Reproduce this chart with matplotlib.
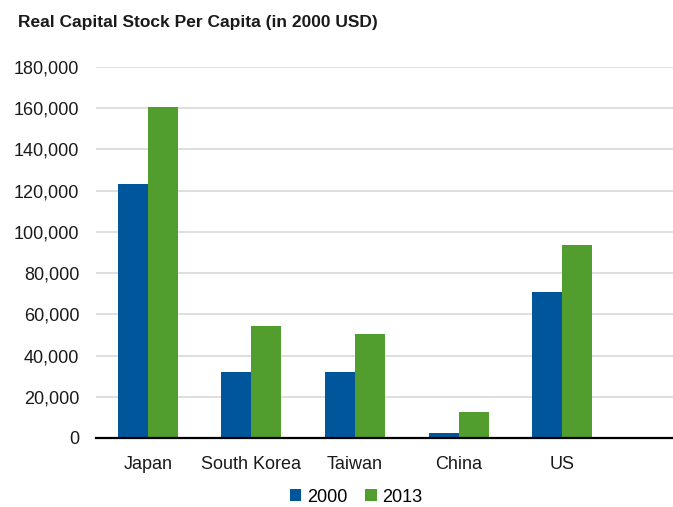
import numpy as np
import matplotlib
matplotlib.use('Agg')
import matplotlib.pyplot as plt
from matplotlib.ticker import FuncFormatter

plt.rcParams['font.family'] = ['Liberation Sans Narrow', 'Liberation Sans', 'DejaVu Sans']

countries = ['Japan', 'South Korea', 'Taiwan', 'China', 'US']
cap_2000 = [123100, 31900, 32000, 2400, 70900]
cap_2013 = [160500, 54500, 50300, 12600, 93500]

blue = '#00569B'
green = '#519E2F'

fig = plt.figure(figsize=(6.73, 5.07), dpi=100)
ax = fig.add_axes([96 / 673, 1 - 438 / 507, 1 - 96 / 673, (438 - 67) / 507])

x = np.arange(len(countries))
w = 0.29
ax.bar(x - w / 2, cap_2000, w, color=blue, label='2000', zorder=3)
ax.bar(x + w / 2, cap_2013, w, color=green, label='2013', zorder=3)

ax.set_ylim(0, 180000)
ax.set_xlim(-0.5, 5.07)
ax.set_yticks(range(0, 180001, 20000))
ax.yaxis.set_major_formatter(FuncFormatter(lambda v, p: f'{int(v):,}'))
ax.set_xticks(x)
ax.set_xticklabels(countries)
ax.tick_params(axis='both', length=0, labelsize=13, colors='#1a1a1a', pad=12)
ax.tick_params(axis='x', pad=13)
ax.yaxis.grid(True, color='#d9d9d9', linewidth=1.2, zorder=0)
for s in ['top', 'right', 'left']:
    ax.spines[s].set_visible(False)
ax.spines['bottom'].set_color('black')
ax.spines['bottom'].set_linewidth(1.6)
ax.spines['bottom'].set_zorder(4)

fig.text(18 / 673, 1 - 22 / 507, 'Real Capital Stock Per Capita (in 2000 USD)',
         fontsize=12.5, fontweight='bold', va='center', ha='left', color='#1a1a1a')

fig.legend(loc='center', bbox_to_anchor=(356 / 673, 1 - 497 / 507), ncol=2,
           frameon=False, fontsize=13, handlelength=0.65, handleheight=0.65,
           handletextpad=0.3, columnspacing=1.0)

fig.savefig('out.png', dpi=100)
